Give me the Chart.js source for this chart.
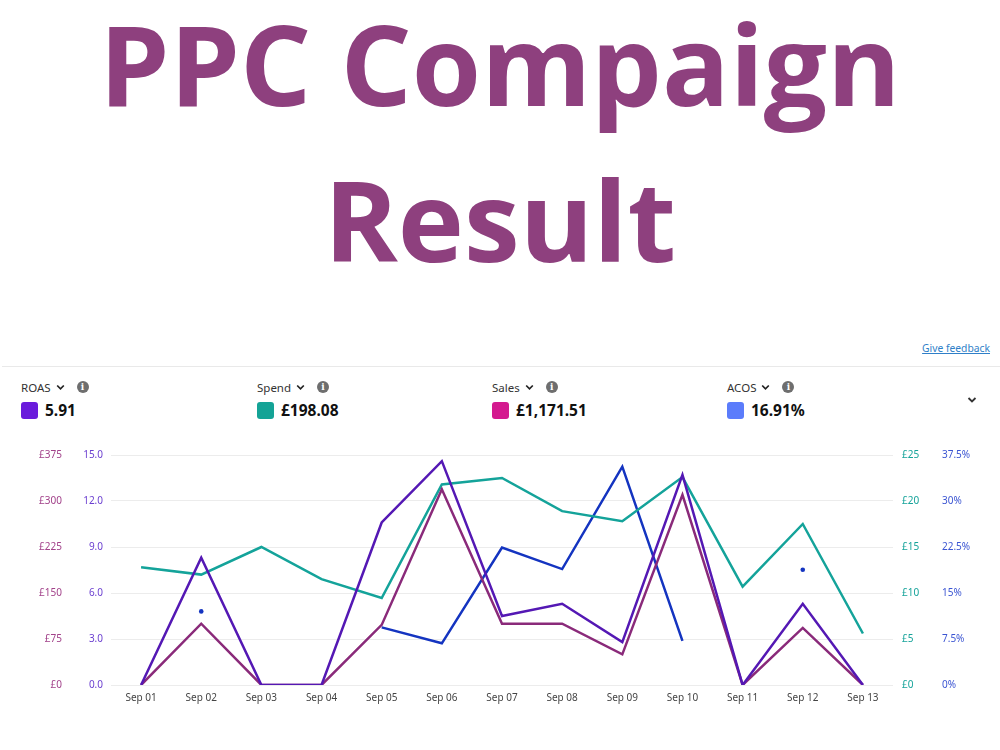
<!DOCTYPE html>
<html>
<head>
<meta charset="utf-8">
<script src="https://cdn.jsdelivr.net/npm/chart.js@4"></script>
<style>
  html, body { margin:0; padding:0; background:#fff; }
  body { width:1000px; height:750px; position:relative; overflow:hidden; font-family:"Noto Sans", sans-serif; }
  .title { position:absolute; left:0; width:1000px; text-align:center; font-family:"Open Sans", sans-serif; font-weight:700; font-size:112px; line-height:112px; color:#8e407e; white-space:nowrap; }
  .feedback { position:absolute; right:10px; top:341px; font-size:10.3px; color:#2f7fc8; text-decoration:underline; }
  .sep { position:absolute; left:2px; right:0; top:366px; height:1px; background:#e9e9e9; }
  .metric { position:absolute; top:378px; }
  .mname { font-size:11.5px; color:#333; display:flex; align-items:center; height:18px; }
  .mname svg { margin-left:5px; }
  .info { display:inline-block; width:12px; height:12px; border-radius:50%; background:#6e6e6e; color:#fff; font-size:9px; font-weight:700; line-height:12px; text-align:center; margin-left:12px; font-family:"DejaVu Serif", serif; }
  .mval { display:flex; align-items:center; margin-top:3px; }
  .sw { width:17px; height:17px; border-radius:3px; margin-right:7px; }
  .num { font-size:15.5px; font-weight:700; color:#111; font-family:"Noto Sans", sans-serif; }
  .chev { position:absolute; left:967px; top:396px; }
  #wrap { position:absolute; left:0; top:440px; width:1000px; height:270px; }
</style>
</head>
<body>
<div class="title" style="top:7px;">PPC Compaign</div>
<div class="title" style="top:163px;">Result</div>
<div class="feedback">Give feedback</div>
<div class="sep"></div>
<div id="metrics"></div>
<svg class="chev" width="10" height="8" viewBox="0 0 10 8"><polyline points="1.5,2 5,5.5 8.5,2" fill="none" stroke="#333" stroke-width="1.8"/></svg>
<div id="wrap"><canvas id="c" width="1000" height="270"></canvas></div>
<script>
const labels = ['Sep 01','Sep 02','Sep 03','Sep 04','Sep 05','Sep 06','Sep 07','Sep 08','Sep 09','Sep 10','Sep 11','Sep 12','Sep 13'];
const roas  = [0, 8.3, 0, 0, 10.6, 14.6, 4.5, 5.3, 2.8, 13.7, 0, 5.3, 0];
const sales = [0, 100, 0, 0, 98, 319, 100, 100, 50, 310, 0, 93, 0];
const spend = [12.8, 12.0, 15.0, 11.5, 9.45, 21.8, 22.5, 18.9, 17.8, 22.6, 10.7, 17.5, 5.6];
const acos  = [null, 12.0, null, null, 9.4, 6.8, 22.4, 18.9, 35.6, 7.2, null, 18.8, null];

const roasTicks  = [0, 3, 6, 9, 12, 15];
const salesTicks = [0, 75, 150, 225, 300, 375];
const spendTicks = [0, 5, 10, 15, 20, 25];
const acosTicks  = [0, 7.5, 15, 22.5, 30, 37.5];

const metricNames  = ['ROAS', 'Spend', 'Sales', 'ACOS'];
const metricValues = ['5.91', '£198.08', '£1,171.51', '16.91%'];
const metricSwatch = ['#6a1bdc', '#14a396', '#d41a8f', '#5b7cfb'];
const metricLeft   = [21, 257, 492, 727];

const chevSvg = '<svg width="9" height="7" viewBox="0 0 9 7"><polyline points="1.2,1.5 4.5,4.8 7.8,1.5" fill="none" stroke="#222" stroke-width="1.7"/></svg>';
const mHost = document.getElementById('metrics');
metricNames.forEach((n, i) => {
  const d = document.createElement('div');
  d.className = 'metric';
  d.style.left = metricLeft[i] + 'px';
  d.innerHTML = '<div class="mname">' + n + chevSvg + '<span class="info">i</span></div>' +
    '<div class="mval"><div class="sw" style="background:' + metricSwatch[i] + '"></div><span class="num">' + metricValues[i] + '</span></div>';
  mHost.appendChild(d);
});

const tickFont = { family: '"Noto Sans", sans-serif', size: 10 };
function fixTicks(arr) { return axis => { axis.ticks = arr.map(v => ({ value: v })); }; }
function fixWidth(w) { return axis => { axis.width = w; }; }

new Chart(document.getElementById('c'), {
  type: 'line',
  data: {
    labels: labels,
    datasets: [
      { label: 'ROAS', data: roas, yAxisID: 'yRoas', borderColor: '#5418b4', borderWidth: 2.5, pointRadius: 0, tension: 0, order: 0 },
      { label: 'Sales', data: sales, yAxisID: 'ySales', borderColor: '#8a2a7a', borderWidth: 2.5, pointRadius: 0, tension: 0, order: 1 },
      { label: 'Spend', data: spend, yAxisID: 'ySpend', borderColor: '#14a39a', borderWidth: 2.5, pointRadius: 0, tension: 0, order: 2 },
      { label: 'ACOS', data: acos, yAxisID: 'yAcos', borderColor: '#1434c0', backgroundColor: '#1434c0', borderWidth: 2.5, tension: 0, spanGaps: false, order: 3,
        pointBorderWidth: 0,
        pointRadius: ctx => {
          const d = ctx.dataset.data, i = ctx.dataIndex;
          const prev = i > 0 ? d[i-1] : null, next = i < d.length-1 ? d[i+1] : null;
          return (d[i] !== null && prev === null && next === null) ? 2.3 : 0;
        } }
    ]
  },
  options: {
    responsive: false,
    animation: false,
    layout: { padding: { top: 13, left: 0, right: 0, bottom: 0 } },
    plugins: { legend: { display: false }, tooltip: { enabled: false } },
    scales: {
      x: {
        offset: true,
        grid: { display: false, drawTicks: false },
        border: { display: false },
        ticks: { color: '#444', font: tickFont, padding: 7, maxRotation: 0, autoSkip: false },
        afterFit: axis => { axis.height = 25; }
      },
      yRoas: {
        position: 'left', min: 0, max: 15,
        afterBuildTicks: fixTicks(roasTicks),
        afterFit: fixWidth(41),
        grid: { color: '#ececec', drawTicks: false },
        border: { display: false },
        ticks: { color: '#6b3fd0', font: tickFont, padding: 8, callback: v => v.toFixed(1) }
      },
      ySales: {
        position: 'left', min: 0, max: 375,
        afterBuildTicks: fixTicks(salesTicks),
        afterFit: fixWidth(70),
        grid: { display: false, drawTicks: false },
        border: { display: false },
        ticks: { color: '#a2428a', font: tickFont, padding: 8, callback: v => '£' + v }
      },
      ySpend: {
        position: 'right', min: 0, max: 25,
        afterBuildTicks: fixTicks(spendTicks),
        afterFit: fixWidth(40),
        grid: { display: false, drawTicks: false },
        border: { display: false },
        ticks: { color: '#16a39a', font: tickFont, padding: 9, callback: v => '£' + v }
      },
      yAcos: {
        position: 'right', min: 0, max: 37.5,
        afterBuildTicks: fixTicks(acosTicks),
        afterFit: fixWidth(67),
        grid: { display: false, drawTicks: false },
        border: { display: false },
        ticks: { color: '#3b55d2', font: tickFont, padding: 9, callback: v => v + '%' }
      }
    }
  }
});
</script>
</body>
</html>
